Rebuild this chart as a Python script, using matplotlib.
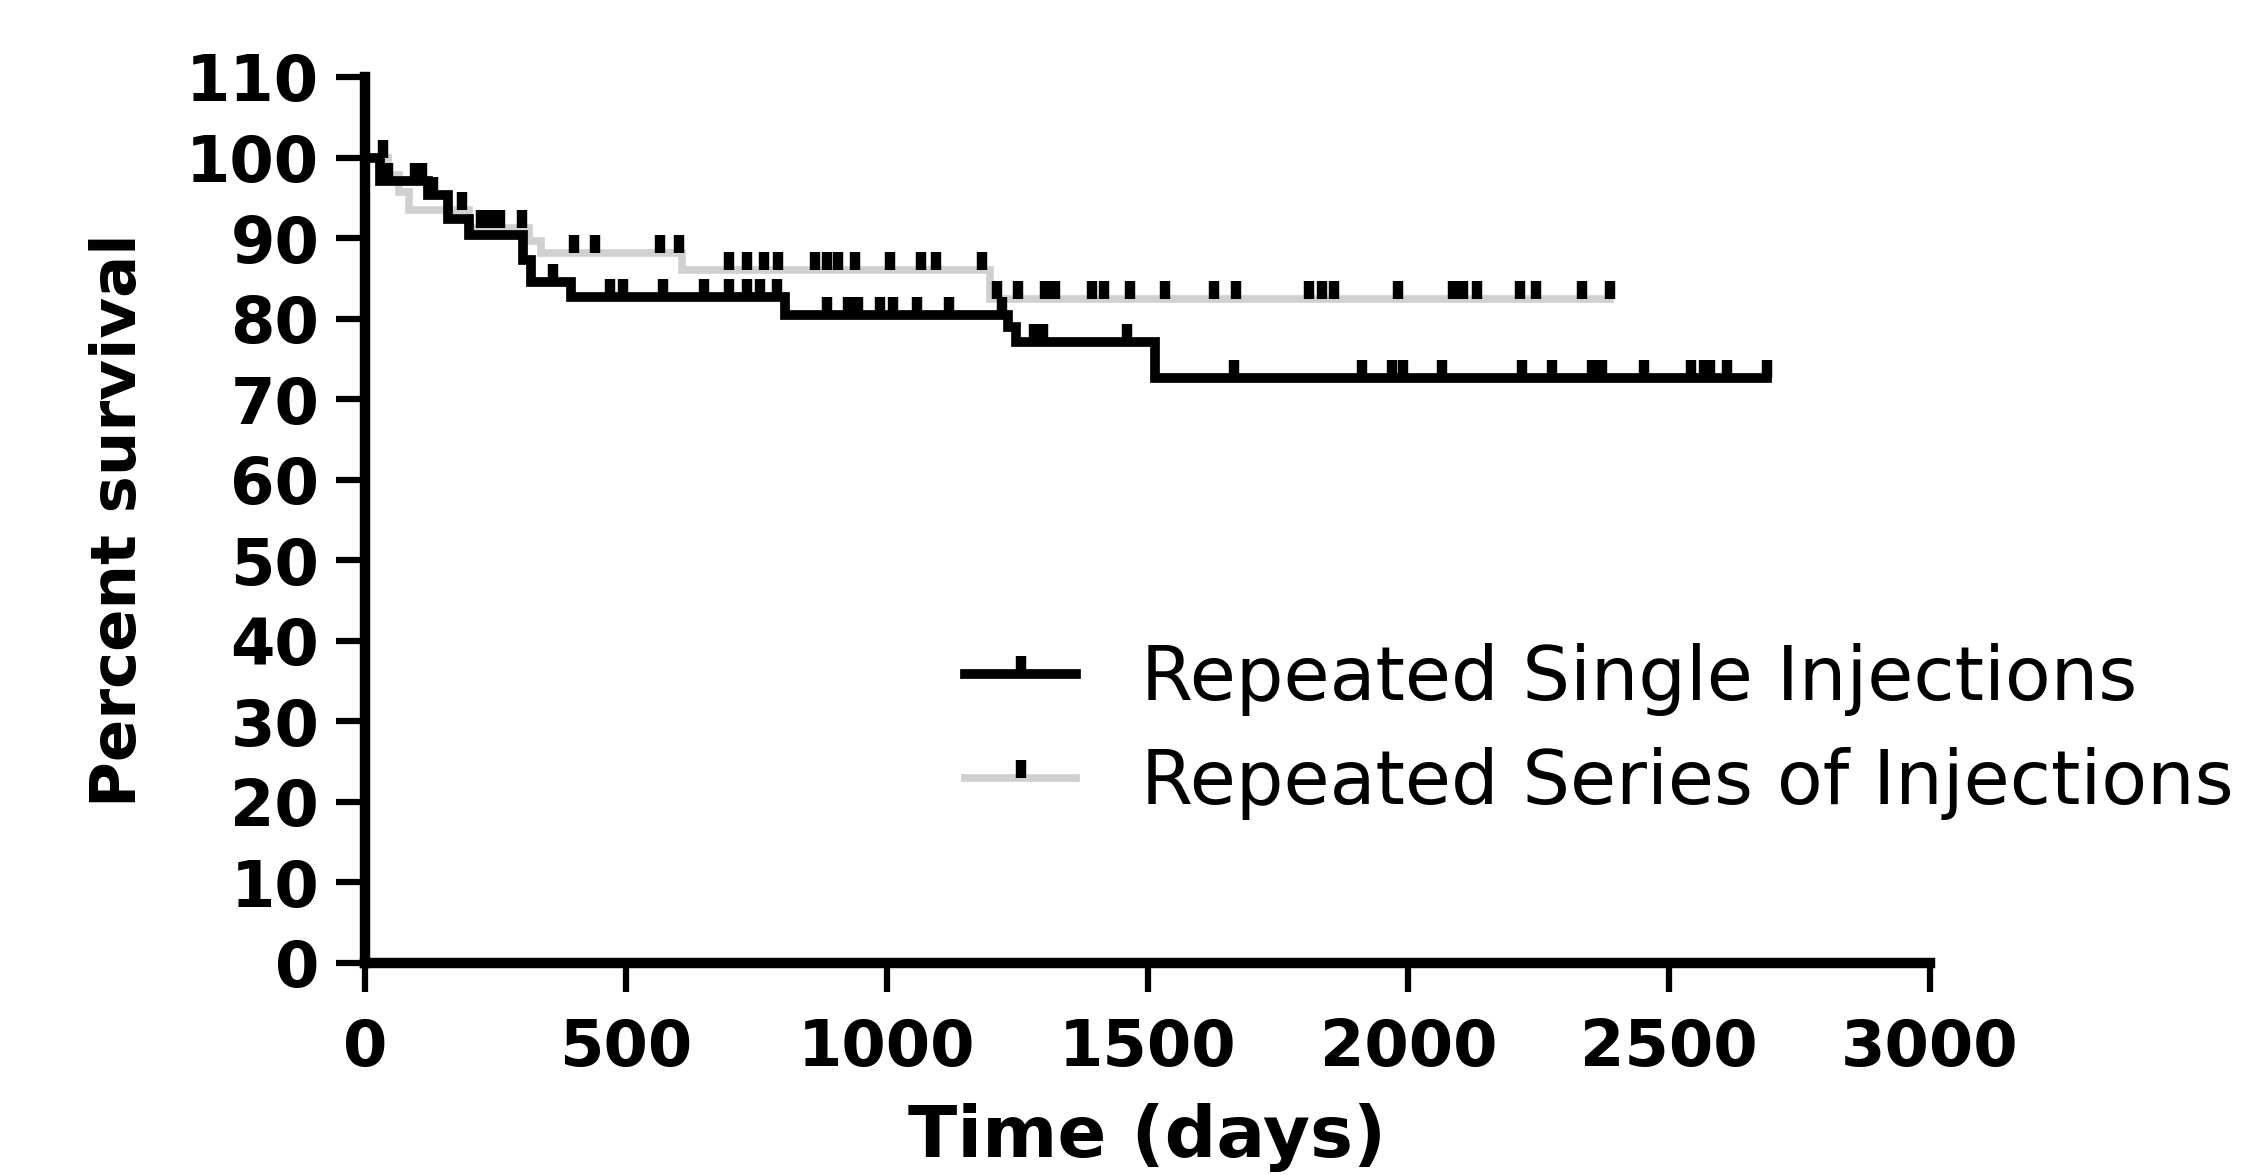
import numpy as np
import matplotlib.pyplot as plt
from matplotlib.path import Path
from matplotlib.lines import Line2D

# Kaplan-Meier steps (day, percent survival)
single_days = [0, 28, 120, 160, 200, 302, 318, 395, 805, 1232, 1248, 1515]
single_surv = [100, 97.1, 95.3, 92.4, 90.4, 87.3, 84.6, 82.7, 80.5, 78.9, 77.1, 72.6]
single_end = 2687
single_cens = [45, 95, 110, 130, 360, 470, 495, 572, 649, 697, 732, 757, 789,
               885, 926, 946, 988, 1013, 1058, 1120, 1221, 1282, 1300, 1460,
               1665, 1911, 1968, 1990, 2064, 2218, 2276, 2352, 2371, 2451,
               2541, 2566, 2579, 2611, 2687]

series_days = [0, 45, 65, 85, 200, 315, 338, 608, 1199]
series_surv = [100, 97.8, 95.7, 93.5, 91.3, 89.7, 88.1, 86.0, 82.5]
series_end = 2387
series_cens = [35, 185, 222, 240, 258, 300, 400, 440, 565, 602, 697, 732, 764,
               792, 863, 885, 907, 939, 1006, 1066, 1094, 1182, 1211, 1251,
               1304, 1323, 1393, 1416, 1467, 1534, 1627, 1670, 1810, 1835,
               1857, 1981, 2085, 2105, 2132, 2215, 2244, 2333, 2387]

labels = ["Repeated Single Injections", "Repeated Series of Injections"]
grey = "#d0d0d0"


def level_at(days, surv, t):
    idx = np.searchsorted(days, t, side="right") - 1
    return np.asarray(surv)[idx]


# censor tick: a stroke going up from the line
tick = Path([[0, 0], [0, 1]], [Path.MOVETO, Path.LINETO])

fig = plt.figure(figsize=(22.65, 11.75), dpi=100)
ax = fig.add_axes([365 / 2265, 1 - 963 / 1175, 1565 / 2265, 886 / 1175])

for days, surv, end, cens, col, lw in [
        (series_days, series_surv, series_end, series_cens, grey, 5.5),
        (single_days, single_surv, single_end, single_cens, "black", 7)]:
    x = list(days) + [end]
    y = list(surv) + [surv[-1]]
    ax.step(x, y, where="post", color=col, lw=lw, clip_on=False,
            solid_joinstyle="miter")
    ax.plot(cens, level_at(days, surv, cens), ls="none", marker=tick,
            ms=26, mew=7.5, color="black", clip_on=False, zorder=4)

ax.set_xlim(0, 3000)
ax.set_ylim(0, 110)
ax.set_xticks(np.arange(0, 3001, 500))
ax.set_yticks(np.arange(0, 111, 10))
for s in ["top", "right"]:
    ax.spines[s].set_visible(False)
for s in ["left", "bottom"]:
    ax.spines[s].set_linewidth(7.5)
ax.tick_params(axis="both", direction="out", length=21, width=4.5,
               labelsize=46)
ax.tick_params(axis="y", pad=12)
ax.tick_params(axis="x", pad=18)
for lab in ax.get_xticklabels() + ax.get_yticklabels():
    lab.set_fontweight("bold")

ax.set_xlabel("Time (days)", fontsize=52, fontweight="bold", va="center")
ax.set_ylabel("Percent survival", fontsize=45, fontweight="bold", va="center")
ax.xaxis.set_label_coords(0.5, -0.197)
ax.yaxis.set_label_coords(-0.157, 0.5)

h1 = (Line2D([], [], color="black", lw=7),
      Line2D([], [], ls="none", marker=tick, ms=26, mew=7.5, color="black"))
h2 = (Line2D([], [], color=grey, lw=5.5),
      Line2D([], [], ls="none", marker=tick, ms=26, mew=7.5, color="black"))
ax.legend([h1, h2], labels, loc="upper left",
          bbox_to_anchor=(965 / 2265, 1 - 643 / 1175),
          bbox_transform=fig.transFigure, frameon=False, fontsize=54,
          handlelength=1.48, handletextpad=0.87, labelspacing=0.42,
          borderpad=0, borderaxespad=0)

fig.savefig("out.png", dpi=100)
